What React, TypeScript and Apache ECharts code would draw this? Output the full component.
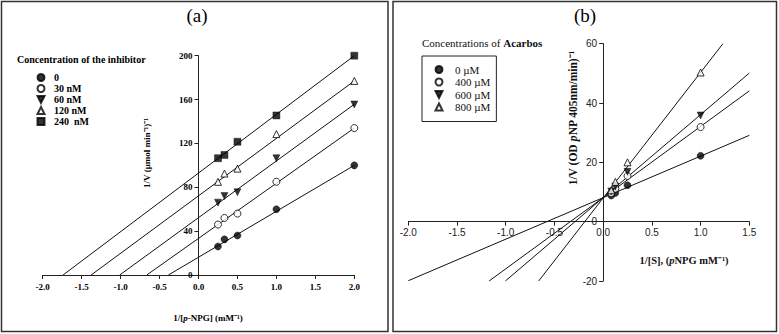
import React, { useEffect, useRef } from 'react';
import * as echarts from 'echarts';

const SERIF = '"Liberation Serif", "Times New Roman", Times, serif';
const SANS = '"Liberation Sans", Arial, Helvetica, sans-serif';

// ---- Panel (a): double-reciprocal plot, inhibitor concentrations ----
const substrateA = [0.25, 0.333, 0.5, 1.0, 2.0];
const inhibitorNames = ['0', '30 nM', '60 nM', '120 nM', '240  nM'];
const rateA0 = [26, 32.5, 36, 60, 100];
const rateA30 = [46, 52, 56, 85, 134];
const rateA60 = [66, 72, 75.5, 106.5, 155.5];
const rateA120 = [85, 92.5, 97, 128.5, 177];
const rateA240 = [106.5, 109.5, 121.5, 145.5, 200];
const slopeA = [41.9, 50.3, 51.7, 52.4, 53.5];
const interceptA = [16.2, 33.4, 52.3, 72.2, 93.0];
const xRangeA = [-2, 2, 0.5];
const yRangeA = [0, 200, 40];

// ---- Panel (b): double-reciprocal plot, Acarbos concentrations ----
const substrateB = [0.083, 0.125, 0.25, 1.0];
const acarbosNames = ['0 µM', '400 µM', '600 µM', '800 µM'];
const rateB0 = [8.8, 9.7, 12.3, 22.2];
const rateB400 = [9.6, 11.1, 15.4, 31.9];
const rateB600 = [10.2, 11.9, 16.8, 35.8];
const rateB800 = [10.6, 13.4, 20.0, 50.3];
const slopeB = [14.0, 24.0, 28.0, 42.3];
const interceptB = [8.1, 8.1, 8.1, 8.0];
const xRangeB = [-2, 1.5, 0.5];
const yRangeB = [-20, 60, 20];

const ratesA = [rateA0, rateA30, rateA60, rateA120, rateA240];
const ratesB = [rateB0, rateB400, rateB600, rateB800];

const DOWN_TRIANGLE = 'path://M0,0L10,0L5,10Z';

type Marker = { symbol: string; filled: boolean };
const markersA: Marker[] = [
  { symbol: 'circle', filled: true },
  { symbol: 'circle', filled: false },
  { symbol: DOWN_TRIANGLE, filled: true },
  { symbol: 'triangle', filled: false },
  { symbol: 'rect', filled: true },
];
const markersB: Marker[] = [
  { symbol: 'circle', filled: true },
  { symbol: 'circle', filled: false },
  { symbol: DOWN_TRIANGLE, filled: true },
  { symbol: 'triangle', filled: false },
];

const gridA = { left: 42.7, top: 55.7, width: 311.6, height: 219.3 };
const gridB = { left: 408.3, top: 43.7, width: 341, height: 237.3 };

// Segment of y = m*x + b clipped to the plotting window
function clipLine(m: number, b: number, xr: number[], yr: number[]) {
  const xs = Math.max(xr[0], (yr[0] - b) / m);
  const xe = Math.min(xr[1], (yr[1] - b) / m);
  return [
    [xs, m * xs + b],
    [xe, m * xe + b],
  ];
}

function scatterSeries(name: string, xs: number[], ys: number[], mk: Marker, grid: number, size: number) {
  return {
    type: 'scatter',
    name,
    xAxisIndex: grid,
    yAxisIndex: grid,
    data: xs.map((x, i) => [x, ys[i]]),
    symbol: mk.symbol,
    symbolSize: size,
    itemStyle: mk.filled
      ? { color: '#000', borderColor: '#000', borderWidth: 0.5 }
      : { color: '#fff', borderColor: '#000', borderWidth: 1 },
    z: 4,
    silent: true,
  };
}

function fitSeries(name: string, m: number, b: number, xr: number[], yr: number[], grid: number) {
  return {
    type: 'line',
    name,
    xAxisIndex: grid,
    yAxisIndex: grid,
    data: clipLine(m, b, xr, yr),
    symbol: 'none',
    showSymbol: false,
    lineStyle: { color: '#111', width: 1 },
    z: 2,
    silent: true,
  };
}

function valueAxis(grid: number, r: number[], font: any, fmt: ((v: number) => string) | undefined, margin: number, offset: number) {
  return {
    type: 'value',
    gridIndex: grid,
    min: r[0],
    max: r[1],
    interval: r[2],
    offset,
    axisLine: { show: true, onZero: false, lineStyle: { color: '#222', width: 1 } },
    axisTick: { show: true, inside: false, length: 4, lineStyle: { color: '#222', width: 1 } },
    axisLabel: { ...font, margin, formatter: fmt },
    splitLine: { show: false },
  };
}

// Shift that moves an edge axis onto the zero line of the crossing axis
function zeroOffset(size: number, r: number[]) {
  return -(size * (0 - r[0])) / (r[1] - r[0]);
}

export default function App() {
  const ref = useRef<HTMLDivElement>(null);

  useEffect(() => {
    if (!ref.current) return;
    const chart = echarts.init(ref.current, undefined, { renderer: 'svg' });

    const fontA = { fontFamily: SERIF, fontWeight: 'bold', fontSize: 9, color: '#000' };
    const fontB = { fontFamily: SANS, fontWeight: 'normal', fontSize: 10, color: '#222' };
    const oneDec = (v: number) => v.toFixed(1);

    const series: any[] = [];
    ratesA.forEach((ys, i) => {
      series.push(fitSeries('fitA' + i, slopeA[i], interceptA[i], xRangeA, yRangeA, 0));
      series.push(scatterSeries(inhibitorNames[i], substrateA, ys, markersA[i], 0, 7));
    });
    ratesB.forEach((ys, i) => {
      series.push(fitSeries('fitB' + i, slopeB[i], interceptB[i], xRangeB, yRangeB, 1));
      series.push(scatterSeries(acarbosNames[i], substrateB, ys, markersB[i], 1, 7));
    });

    chart.setOption({
      animation: false,
      backgroundColor: '#fff',
      grid: [gridA, gridB],
      xAxis: [
        valueAxis(0, xRangeA, fontA, oneDec, 7, zeroOffset(gridA.height, yRangeA)),
        valueAxis(1, xRangeB, fontB, oneDec, 6, zeroOffset(gridB.height, yRangeB)),
      ],
      yAxis: [
        valueAxis(0, yRangeA, fontA, undefined, 6, zeroOffset(gridA.width, xRangeA)),
        valueAxis(1, yRangeB, fontB, undefined, 6, zeroOffset(gridB.width, xRangeB)),
      ],
      legend: [
        {
          orient: 'vertical',
          left: 36.5,
          top: 72.5,
          padding: 0,
          itemWidth: 7,
          itemHeight: 7,
          itemGap: 1,
          selectedMode: false,
          data: inhibitorNames,
          textStyle: { fontFamily: SERIF, fontWeight: 'bold', fontSize: 10, color: '#000', lineHeight: 10, padding: [0, 0, 0, 4.5] },
        },
        {
          orient: 'vertical',
          left: 422,
          top: 56,
          padding: [8, 6, 9, 12.5],
          borderColor: '#222',
          borderWidth: 1,
          itemWidth: 7,
          itemHeight: 7,
          itemGap: 1.5,
          selectedMode: false,
          data: acarbosNames,
          textStyle: { fontFamily: SERIF, fontWeight: 'normal', fontSize: 11, color: '#111', lineHeight: 10, padding: [0, 0, 0, 7.5] },
        },
      ],
      graphic: [
        { type: 'rect', shape: { x: 1.5, y: 1.5, width: 386.5, height: 330 }, style: { fill: 'none', stroke: '#333', lineWidth: 1.5 } },
        { type: 'rect', shape: { x: 393, y: 1.5, width: 383.5, height: 330 }, style: { fill: 'none', stroke: '#333', lineWidth: 1.5 } },
        { type: 'text', x: 197, y: 15, style: { text: '(a)', font: `19px ${SERIF}`, fill: '#000', align: 'center', verticalAlign: 'middle' } },
        { type: 'text', x: 585, y: 15, style: { text: '(b)', font: `19px ${SERIF}`, fill: '#000', align: 'center', verticalAlign: 'middle' } },
        { type: 'text', x: 17, y: 59, style: { text: 'Concentration of the inhibitor', font: `bold 10px ${SERIF}`, fill: '#000', align: 'left', verticalAlign: 'middle' } },
        {
          type: 'text', x: 147, y: 153, rotation: Math.PI / 2,
          style: { text: '1/V (µmol min⁻¹)⁻¹', font: `bold 9px ${SERIF}`, fill: '#000', align: 'center', verticalAlign: 'middle' },
        },
        {
          type: 'text', x: 208, y: 318,
          style: {
            text: '1/[{i|p}-NPG] (mM⁻¹)', font: `bold 9px ${SERIF}`, fill: '#000', align: 'center', verticalAlign: 'middle',
            rich: { i: { fontFamily: SERIF, fontWeight: 'bold', fontStyle: 'italic', fontSize: 9, fill: '#000' } },
          },
        },
        {
          type: 'text', x: 422, y: 43,
          style: {
            text: 'Concentrations of {b|Acarbos}', font: `11px ${SERIF}`, fill: '#111', align: 'left', verticalAlign: 'middle',
            rich: { b: { fontFamily: SERIF, fontWeight: 'bold', fontSize: 11, fill: '#111' } },
          },
        },
        {
          type: 'text', x: 573, y: 118, rotation: Math.PI / 2,
          style: {
            text: '1/V (OD {i|p}NP 405nm/min)⁻¹', font: `bold 11.5px ${SERIF}`, fill: '#111', align: 'center', verticalAlign: 'middle',
            rich: { i: { fontFamily: SERIF, fontWeight: 'bold', fontStyle: 'italic', fontSize: 11.5, fill: '#111' } },
          },
        },
        {
          type: 'text', x: 684, y: 260,
          style: {
            text: '1/[S], ({i|p}NPG mM⁻¹)', font: `bold 10.5px ${SERIF}`, fill: '#111', align: 'center', verticalAlign: 'middle',
            rich: { i: { fontFamily: SERIF, fontWeight: 'bold', fontStyle: 'italic', fontSize: 10.5, fill: '#111' } },
          },
        },
      ],
      series,
    });

    return () => chart.dispose();
  }, []);

  return <div ref={ref} style={{ position: 'absolute', left: 0, top: 0, width: 779, height: 334 }} />;
}
